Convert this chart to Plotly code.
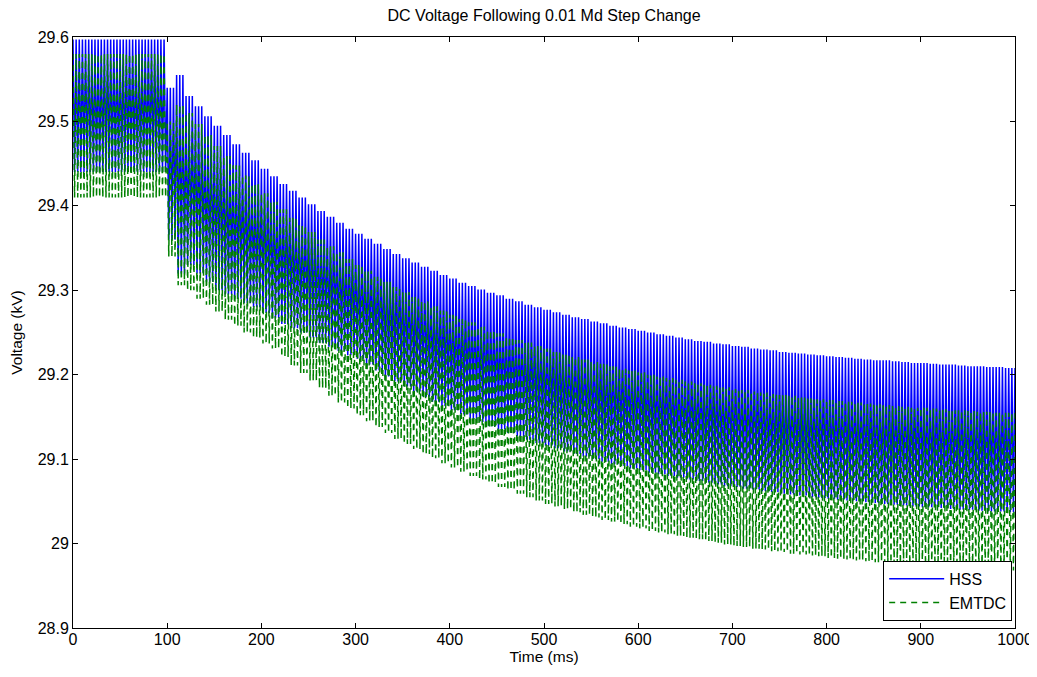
import plotly.graph_objects as go

# envelope of the 300 Hz ripple, read per 10 ms bin (bin start times)
bin_ms = list(range(0, 1000, 10))
ripples_per_bin = 3

hss_hi = [
    29.597, 29.597, 29.597, 29.597, 29.597, 29.597, 29.597, 29.597, 29.597, 29.597,
    29.540, 29.555, 29.530, 29.518, 29.506, 29.495, 29.484, 29.473, 29.463, 29.454,
    29.444, 29.435, 29.426, 29.418, 29.410, 29.402, 29.394, 29.387, 29.380, 29.373,
    29.367, 29.361, 29.355, 29.349, 29.343, 29.338, 29.333, 29.328, 29.323, 29.318,
    29.314, 29.309, 29.305, 29.301, 29.297, 29.294, 29.290, 29.287, 29.283, 29.280,
    29.277, 29.274, 29.271, 29.268, 29.266, 29.263, 29.261, 29.258, 29.256, 29.254,
    29.252, 29.250, 29.248, 29.246, 29.244, 29.242, 29.240, 29.239, 29.237, 29.236,
    29.234, 29.233, 29.231, 29.230, 29.229, 29.227, 29.226, 29.225, 29.224, 29.223,
    29.222, 29.221, 29.220, 29.219, 29.218, 29.217, 29.217, 29.216, 29.215, 29.214,
    29.214, 29.213, 29.212, 29.212, 29.211, 29.210, 29.210, 29.209, 29.209, 29.208,
]
hss_lo = [
    29.440, 29.440, 29.440, 29.440, 29.440, 29.440, 29.440, 29.440, 29.440, 29.440,
    29.360, 29.320, 29.330, 29.320, 29.310, 29.300, 29.295, 29.290, 29.285, 29.280,
    29.273, 29.267, 29.260, 29.255, 29.250, 29.244, 29.238, 29.233, 29.228, 29.223,
    29.219, 29.212, 29.205, 29.198, 29.192, 29.186, 29.180, 29.174, 29.168, 29.163,
    29.158, 29.153, 29.148, 29.144, 29.139, 29.135, 29.131, 29.127, 29.123, 29.119,
    29.116, 29.113, 29.109, 29.106, 29.103, 29.100, 29.097, 29.094, 29.092, 29.089,
    29.087, 29.084, 29.082, 29.080, 29.078, 29.076, 29.074, 29.072, 29.070, 29.068,
    29.067, 29.065, 29.064, 29.062, 29.061, 29.059, 29.058, 29.057, 29.055, 29.054,
    29.053, 29.052, 29.051, 29.050, 29.049, 29.048, 29.047, 29.046, 29.045, 29.044,
    29.043, 29.043, 29.042, 29.041, 29.040, 29.040, 29.039, 29.038, 29.038, 29.037,
]
emt_hi = [
    29.580, 29.580, 29.580, 29.580, 29.580, 29.580, 29.580, 29.580, 29.580, 29.580,
    29.500, 29.520, 29.510, 29.497, 29.484, 29.471, 29.459, 29.448, 29.436, 29.426,
    29.415, 29.405, 29.396, 29.386, 29.377, 29.369, 29.360, 29.352, 29.345, 29.337,
    29.330, 29.323, 29.316, 29.310, 29.304, 29.298, 29.292, 29.287, 29.281, 29.276,
    29.271, 29.266, 29.262, 29.257, 29.253, 29.249, 29.245, 29.241, 29.238, 29.234,
    29.231, 29.227, 29.224, 29.221, 29.218, 29.215, 29.213, 29.210, 29.207, 29.205,
    29.203, 29.200, 29.198, 29.196, 29.194, 29.192, 29.190, 29.188, 29.187, 29.185,
    29.183, 29.182, 29.180, 29.179, 29.177, 29.176, 29.175, 29.173, 29.172, 29.171,
    29.170, 29.169, 29.168, 29.167, 29.166, 29.165, 29.164, 29.163, 29.162, 29.161,
    29.161, 29.160, 29.159, 29.158, 29.158, 29.157, 29.156, 29.156, 29.155, 29.155,
]
emt_lo = [
    29.410, 29.410, 29.410, 29.410, 29.410, 29.410, 29.410, 29.410, 29.410, 29.410,
    29.340, 29.306, 29.300, 29.290, 29.283, 29.275, 29.265, 29.258, 29.250, 29.244,
    29.237, 29.231, 29.221, 29.211, 29.202, 29.193, 29.184, 29.175, 29.167, 29.160,
    29.152, 29.145, 29.138, 29.131, 29.124, 29.118, 29.112, 29.106, 29.101, 29.095,
    29.090, 29.085, 29.080, 29.076, 29.071, 29.067, 29.063, 29.059, 29.055, 29.051,
    29.047, 29.044, 29.041, 29.037, 29.034, 29.031, 29.028, 29.026, 29.023, 29.020,
    29.018, 29.015, 29.013, 29.011, 29.009, 29.007, 29.005, 29.003, 29.001, 28.999,
    28.997, 28.996, 28.994, 28.993, 28.991, 28.990, 28.988, 28.987, 28.986, 28.985,
    28.983, 28.982, 28.981, 28.980, 28.979, 28.978, 28.977, 28.976, 28.975, 28.975,
    28.974, 28.973, 28.972, 28.971, 28.971, 28.970, 28.969, 28.969, 28.968, 28.968,
]


def ripple(hi, lo):
    # expand each bin into its ripple cycles: peak then trough
    step = 10 / ripples_per_bin
    xs, ys = [], []
    for t0, h, l in zip(bin_ms, hi, lo):
        for j in range(ripples_per_bin):
            xs += [t0 + j * step, t0 + j * step + step / 2]
            ys += [h, l]
    xs.append(1000)
    ys.append(hi[-1])
    return xs, ys


hss_t, hss_v = ripple(hss_hi, hss_lo)
emt_t, emt_v = ripple(emt_hi, emt_lo)

fig = go.Figure()
fig.add_trace(go.Scatter(x=hss_t, y=hss_v, mode="lines", name="HSS",
                         line=dict(color="#0000ff", width=1.5)))
fig.add_trace(go.Scatter(x=emt_t, y=emt_v, mode="lines", name="EMTDC",
                         line=dict(color="#008000", width=1.5, dash="6px,5px")))

# page body adds an 8px offset, so the figure is 8px smaller than the window
font = "Liberation Sans, Arial, sans-serif"
fig.update_layout(
    width=1029, height=669,
    margin=dict(l=65, r=22, t=29, b=49, autoexpand=False),
    paper_bgcolor="white", plot_bgcolor="white",
    font=dict(family=font, size=16, color="black"),
    title=dict(text="DC Voltage Following 0.01 Md Step Change", x=0.521, xanchor="center",
               y=1 - 7 / 669, yanchor="middle", yref="container", font=dict(size=16)),
    legend=dict(x=0.997, y=0.012, xanchor="right", yanchor="bottom", bgcolor="white",
                bordercolor="black", borderwidth=1, font=dict(size=16), tracegroupgap=0,
                itemwidth=55),
)
axis = dict(showline=True, linecolor="black", linewidth=1, mirror="ticks", ticks="inside",
            ticklen=5, tickcolor="black", showgrid=False, zeroline=False, automargin=False)
fig.update_xaxes(range=[0, 1000], dtick=100, ticklabelstandoff=-3,
                 title=dict(text="Time (ms)", standoff=2, font=dict(size=15.5)), **axis)
fig.update_yaxes(range=[28.9, 29.6], dtick=0.1, tickformat="~g",
                 title=dict(text="Voltage (kV)", standoff=17, font=dict(size=15.5)), **axis)

fig.write_html("out.html")
